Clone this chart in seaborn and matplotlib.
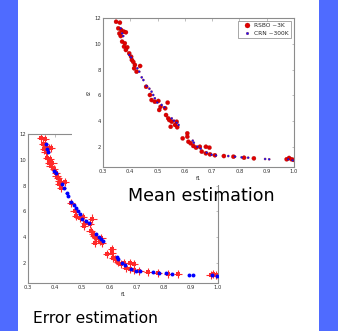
import matplotlib
matplotlib.use("Agg")
import matplotlib.pyplot as plt
import seaborn as sns
import pandas as pd
from matplotlib.patches import Rectangle

# RSBO (~3K evaluations) Pareto points
rsbo_f1 = [0.348, 0.362, 0.356, 0.367, 0.377, 0.384, 0.360, 0.365, 0.370, 0.380,
           0.377, 0.389, 0.384, 0.396, 0.403, 0.406, 0.411, 0.417, 0.414, 0.436,
           0.423, 0.458, 0.472, 0.478, 0.490, 0.503, 0.506, 0.511, 0.528, 0.537,
           0.531, 0.539, 0.543, 0.552, 0.548, 0.564, 0.572, 0.570, 0.592, 0.609,
           0.609, 0.613, 0.621, 0.631, 0.641, 0.655, 0.677, 0.690, 0.662, 0.677,
           0.692, 0.710, 0.743, 0.778, 0.817, 0.853, 0.973, 0.982, 0.991, 1.000]
rsbo_f2 = [11.71, 11.64, 11.20, 11.07, 10.94, 10.89, 10.80, 10.60, 10.17, 10.04,
           9.78, 9.73, 9.52, 9.26, 9.00, 8.74, 8.60, 8.36, 8.10, 8.28,
           7.84, 6.67, 6.03, 5.64, 5.51, 5.57, 4.87, 5.12, 5.00, 5.44,
           4.48, 4.22, 4.09, 3.96, 3.57, 3.71, 3.53, 3.96, 2.67, 3.06,
           2.80, 2.41, 2.29, 2.08, 1.95, 2.02, 2.02, 1.95, 1.64, 1.51,
           1.43, 1.36, 1.30, 1.25, 1.17, 1.12, 1.05, 1.15, 1.05, 1.00]

# CRN (~300K evaluations) Pareto points
crn_f1 = [0.365, 0.370, 0.374, 0.396, 0.403, 0.426, 0.433, 0.442, 0.448, 0.460,
          0.470, 0.478, 0.484, 0.490, 0.499, 0.515, 0.525, 0.552, 0.560, 0.570,
          0.577, 0.629, 0.633, 0.646, 0.658, 0.680, 0.698, 0.714, 0.759, 0.784,
          0.808, 0.832, 0.894, 0.909, 0.979, 0.995]
crn_f2 = [11.20, 10.81, 10.60, 9.13, 8.95, 8.10, 7.84, 7.40, 7.19, 6.73,
          6.52, 6.29, 6.03, 5.78, 5.44, 5.26, 5.08, 4.22, 4.04, 3.88,
          3.71, 2.49, 2.33, 2.02, 1.87, 1.56, 1.40, 1.35, 1.30, 1.25,
          1.20, 1.17, 1.07, 1.05, 1.05, 0.97]

rsbo_xerr = 0.016
rsbo_yerr = 0.32
crn_xerr = 0.004
crn_yerr = 0.08

x_ticks = [0.3, 0.4, 0.5, 0.6, 0.7, 0.8, 0.9, 1.0]
x_ticklabels = ["0.3", "0.4", "0.5", "0.6", "0.7", "0.8", "0.9", "1.0"]
y_ticks = [2, 4, 6, 8, 10, 12]

df = pd.DataFrame({
    "f1": rsbo_f1 + crn_f1,
    "f2": rsbo_f2 + crn_f2,
    "method": ["RSBO ~3K"] * len(rsbo_f1) + ["CRN ~300K"] * len(crn_f1),
})

sns.set_style("white")
plt.rcParams["font.family"] = ["DejaVu Sans"]

W, H = 338, 331
fig = plt.figure(figsize=(W / 100, H / 100), dpi=100)
fig.patch.set_facecolor("white")

def fax(x0, y0, x1, y1):
    return [x0 / W, 1 - y1 / H, (x1 - x0) / W, (y1 - y0) / H]

spine_col = "#8c8c8c"

def style(ax):
    ax.set_xlim(0.3, 1.0)
    ax.set_ylim(0.45, 12)
    ax.set_xticks(x_ticks)
    ax.set_xticklabels(x_ticklabels)
    ax.set_yticks(y_ticks)
    ax.tick_params(labelsize=3.8, direction="in", length=1.8, width=0.4,
                   top=True, right=True, pad=1.5, colors="#333333",
                   color=spine_col)
    for s in ax.spines.values():
        s.set_color(spine_col)
        s.set_linewidth(0.8)
        s.set_visible(True)
    ax.set_facecolor("white")

# Bottom-left: error estimation
ax2 = fig.add_axes(fax(28, 134, 218, 283))
ax2.set_zorder(0)
ax2.errorbar(rsbo_f1, rsbo_f2, xerr=rsbo_xerr, yerr=rsbo_yerr, fmt="s",
             color="#ff2a2a", ms=2.2, mew=0, elinewidth=0.8, capsize=1.0,
             capthick=0.6)
ax2.errorbar(crn_f1, crn_f2, xerr=crn_xerr, yerr=crn_yerr, fmt="none",
             ecolor="#0000ff", elinewidth=0.6)
sns.scatterplot(data=df[df.method == "CRN ~300K"], x="f1", y="f2", ax=ax2,
                color="#0000ff", s=8, linewidth=0, marker="o", legend=False,
                zorder=3)
style(ax2)
ax2.set_xlabel("f1", fontsize=3.8, labelpad=1.5)
ax2.set_ylabel("")

# White cover behind the top plot image
fig.patches.append(Rectangle((72 / W, 1 - 185 / H), (310 - 72) / W, 185 / H,
                             transform=fig.transFigure, facecolor="white",
                             edgecolor="none", zorder=0.5))

# Top-right: mean estimation
ax1 = fig.add_axes(fax(103, 18, 294, 167))
ax1.set_zorder(1)
sns.scatterplot(data=df, x="f1", y="f2", hue="method",
                palette={"RSBO ~3K": "#e00000", "CRN ~300K": "#1010ff"},
                size="method", sizes={"RSBO ~3K": 9, "CRN ~300K": 2.5},
                linewidth=0.2, edgecolor="#a00000", ax=ax1, legend=True)
style(ax1)
ax1.set_xlabel("f1", fontsize=3.8, labelpad=1.5)
ax1.set_ylabel("f2", fontsize=3.8, labelpad=2)
h, l = ax1.get_legend_handles_labels()
leg = ax1.legend(h, l, loc="upper right", fontsize=4.2, scatterpoints=2,
                 frameon=True, fancybox=False, borderpad=0.4,
                 handletextpad=0.3, labelspacing=0.4, markerscale=1.2)
leg.get_frame().set_edgecolor("#666666")
leg.get_frame().set_linewidth(0.5)

fig.text(128 / W, 1 - 201 / H, "Mean estimation", fontsize=12.6,
         color="black", zorder=2, va="baseline")
fig.text(33 / W, 1 - 323 / H, "Error estimation", fontsize=11.2,
         color="black", zorder=2, va="baseline")

blue = "#4f6bff"
fig.patches.append(Rectangle((0, 0), 18 / W, 1, transform=fig.transFigure,
                             facecolor=blue, edgecolor="none", zorder=10))
fig.patches.append(Rectangle((319 / W, 0), (W - 319) / W, 1,
                             transform=fig.transFigure, facecolor=blue,
                             edgecolor="none", zorder=10))

fig.savefig("out.png", dpi=100, facecolor="white")
